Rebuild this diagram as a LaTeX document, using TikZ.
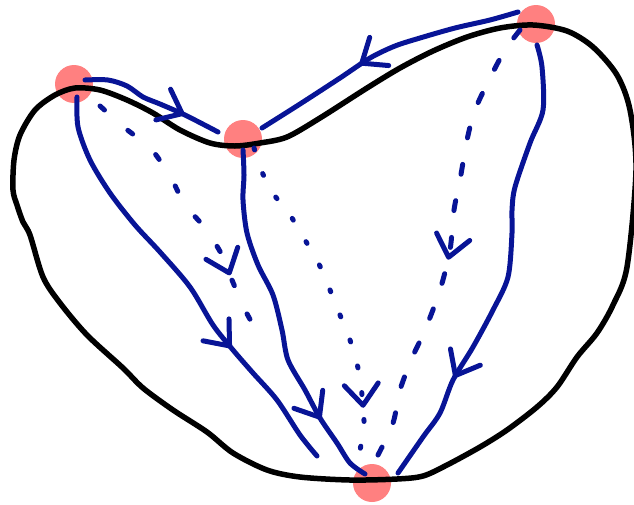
\documentclass[tikz,border=0pt]{standalone}
\usepackage{tikz}
\usetikzlibrary{calc, arrows.meta, decorations.markings}

\definecolor{penblue}{RGB}{8,20,150}
\definecolor{dotpink}{RGB}{255,128,128}

\tikzset{
    spot/.style={circle, fill=dotpink, minimum size=0.76cm, inner sep=0pt},
    rim/.style={black, line width=0.11cm, line cap=round, line join=round},
    pen/.style={penblue, line width=0.1cm, line cap=round, line join=round},
    midarrow/.style={postaction={decorate}, decoration={markings,
        mark=at position #1 with {\arrow{Straight Barb[length=0.42cm, width=0.68cm, round]}}}},
    longdash/.style={dash pattern=on 0.2cm off 0.54cm},
    shortdash/.style={dash pattern=on 0.12cm off 0.62cm},
    dotdash/.style={dash pattern=on 0.04cm off 0.5cm},
}

\begin{document}
\begin{tikzpicture}[x=0.02cm, y=-0.02cm]
            \useasboundingbox (0,0) rectangle (634,504);

            \node[spot] (v1) at (74,84) {};
            \node[spot] (v2) at (243,139) {};
            \node[spot] (v3) at (536,24) {};
            \node[spot] (v4) at (372,483) {};

            \draw[rim] plot[smooth cycle] coordinates {
                (13,190) (14,160) (20,135) (35,110) (55,95) (75,88) (100,90) (127,100)
                (153,113) (180,130) (210,143) (235,146) (260,143) (287,137) (320,118)
                (367,88) (400,68) (433,51) (467,37) (500,28) (533,25) (567,31) (593,47)
                (617,75) (630,110) (636,170) (627,267) (613,305) (597,333) (577,357)
                (557,387) (537,407) (507,430) (480,447) (447,465) (423,476) (397,479)
                (350,480) (300,477) (267,470) (233,453) (207,432) (173,410) (143,388)
                (123,368) (87,335) (60,303) (43,277) (30,235) (23,222) (17,205)};

            \draw[pen, midarrow=0.74] plot[smooth] coordinates {($(v1)+(11,-4)$) (108,80) (127,86)
                (143,97) (160,104) (185,115) ($(v2)+(-25,-7)$)};
            \draw[pen, midarrow=0.59] plot[smooth] coordinates {($(v3)+(-18,-12)$) (490,20) (455,28)
                (420,38) (395,46) (370,58) (340,78) (300,104) ($(v2)+(19,-11)$)};

            \draw[pen, midarrow=0.685] plot[smooth] coordinates {($(v1)+(3,13)$) (78,127) (90,160)
                (110,193) (135,225) (160,252) (190,287) (213,325) (233,350) (253,373)
                (277,400) (300,435) (317,456)};
            \draw[pen, shortdash, midarrow=0.75] plot[smooth] coordinates {($(v1)+(26,22)$) (125,128)
                (152,150) (172,180) (185,205) (205,228) (222,255) (232,280) (245,310) (262,340)};

            \draw[pen, midarrow=0.8] plot[smooth] coordinates {($(v2)+(0,11)$) (244,175) (243,200)
                (247,233) (258,265) (273,295) (282,330) (288,360) (305,390) (320,418)
                (337,443) (350,463) ($(v4)+(-7,-9)$)};
            \draw[pen, dotdash, midarrow=0.87] plot[smooth] coordinates {($(v2)+(11,9)$) (262,172)
                (272,192) (290,215) (305,240) (318,262) (330,290) (340,315) (350,340)
                (358,368) (362,395) (364,425) ($(v4)+(-12,-33)$)};

            \draw[pen, longdash, midarrow=0.54] plot[smooth] coordinates {($(v3)+(-16,6)$) (505,50)
                (490,78) (475,110) (467,140) (460,180) (454,210) (450,250) (440,290)
                (425,330) (412,358) (400,390) (393,423) ($(v4)+(6,-28)$)};
            \draw[pen, midarrow=0.76] plot[smooth] coordinates {($(v3)+(1,21)$) (542,67) (543,110)
                (530,143) (515,187) (512,210) (512,233) (508,277) (493,310) (473,347)
                (453,380) (440,413) (423,437) ($(v4)+(26,-10)$)};
\end{tikzpicture}
\end{document}
